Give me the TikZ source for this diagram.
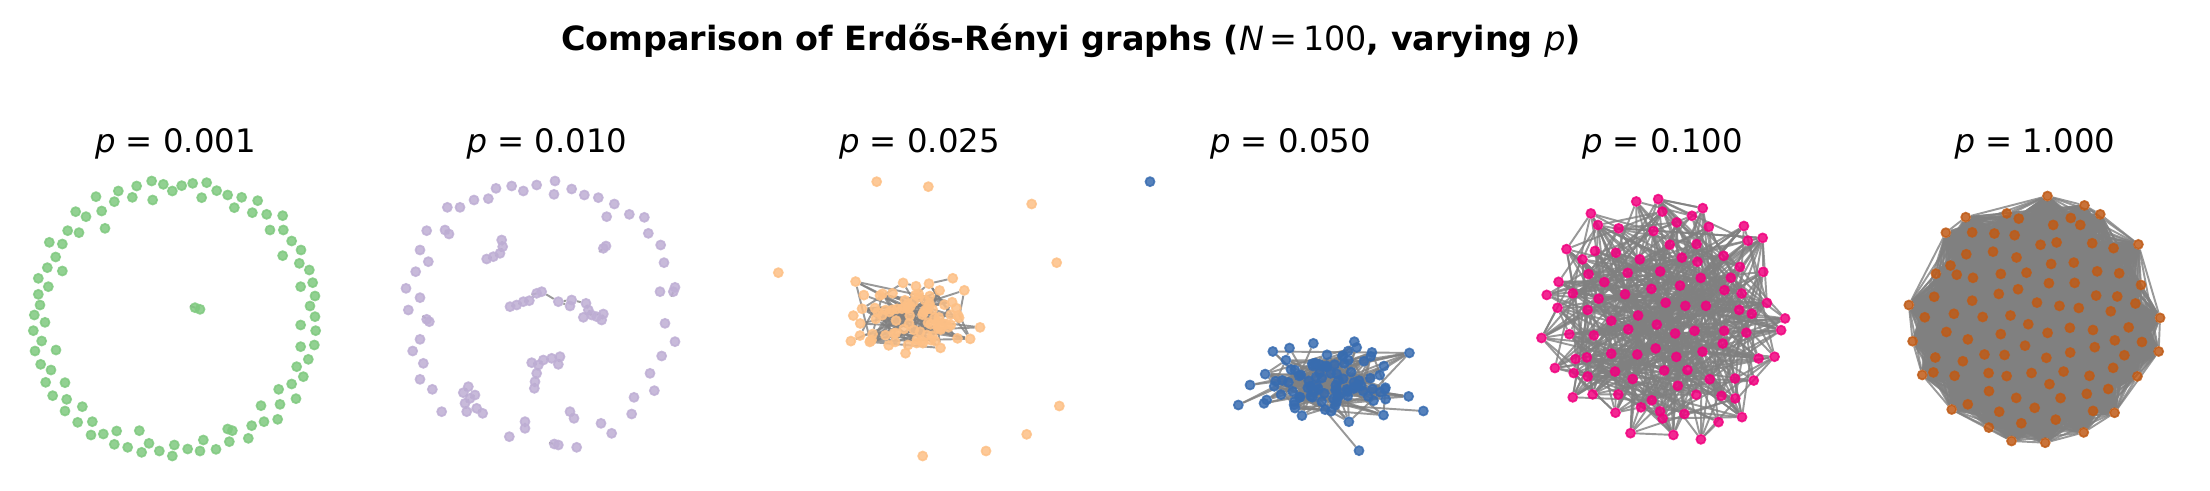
\documentclass[tikz,border=0pt]{standalone}
\usepackage{fontspec}
\setmainfont{DejaVu Sans}
\usetikzlibrary{calc}
\definecolor{accgreen}{HTML}{7FC97F}
\definecolor{accpurple}{HTML}{BEAED4}
\definecolor{accorange}{HTML}{FDC086}
\definecolor{accblue}{HTML}{386CB0}
\definecolor{accpink}{HTML}{F0027F}
\definecolor{accbrown}{HTML}{BF5B17}
\tikzset{vtx/.style={circle,inner sep=0pt,minimum size=0.9mm,line width=0.5pt,draw=#1,fill=#1,opacity=0.85},
  edge/.style={gray,line width=0.55pt,opacity=0.8},
  sub/.style={anchor=base,font=\fontsize{9.2}{11}\selectfont}}
\pgfdeclarelayer{bg}
\pgfsetlayers{bg,main}

\begin{document}
\begin{tikzpicture}[x=0.1mm,y=-0.1mm]
  \useasboundingbox (0,0) rectangle (2210,490);
  \pgfmathsetseed{11}
  \node[anchor=base,font=\bfseries\fontsize{9.5}{12}\selectfont] (title) at (1071,50)
    {Comparison of Erdős-Rényi graphs ({\mdseries\itshape N}{\mdseries\,=\,100}, varying {\mdseries\itshape p})};
  \foreach \cx/\pv [count=\n] in {175.5/0.001,547/0.010,919.5/0.025,1290.5/0.050,1662.5/0.100,2035/1.000}
    \node[sub] (lbl\n) at (\cx,152) {\textit{p} = \pv};

  % p = 0.001
  \begin{scope}[shift={(0,110)},scale=1/3]
    \foreach \zx/\zy [count=\n] in {455/213,490/223,545/227,578/220,620/218,517/243,605/263,650/242,683/255,725/262,
      773/272,703/293,757/308,800/313,848/317,810/360,850/360,875/393,903/420,848/437,
      898/460,928/480,902/530,938/518,945/558,930/588,945/620,902/645,947/662,943/705,
      902/710,925/748,890/770,910/800,875/822,836/838,888/866,840/883,783/887,833/928,
      792/935,755/947,745/985,688/995,683/957,697/962,648/1018,610/990,600/1023,563/1017,
      517/1038,523/1005,478/1023,447/1000,425/1027,383/1012,343/1003,350/963,310/972,273/975,
      418/962,277/935,233/937,247/890,195/903,200/868,195/818,158/857,137/817,153/780,
      122/763,105/723,168/720,125/693,100/662,135/637,103/615,120/585,115/553,145/530,
      115/505,142/473,187/483,167/441,148/397,187/402,203/362,237/368,227/305,258/320,
      305/303,315/355,288/260,343/275,355/243,397/262,410/228,458/270,585/593,600/598}
      \node[vtx=accgreen] (a\n) at (\zx,\zy) {};
    \begin{pgfonlayer}{bg}
      \draw[edge] (a99) -- (a100);
    \end{pgfonlayer}
  \end{scope}

  % p = 0.010
  \begin{scope}[shift={(370,110)},scale=1/3]
    \foreach \zx/\zy [count=\n] in {420/590,440/585,460/575,478/572,500/550,515/545,565/575,605/570,600/588,648/580,
      655/600,640/622,665/615,700/612,695/630,680/620,
      395/390,398/410,390/430,370/440,350/447,
      485/758,505/765,520/750,545/745,570/740,565/763,500/790,495/815,493/835,
      280/848,295/830,315/855,285/880,290/905,320/895,338/910,300/865,
      700/415,708/408,170/628,178/635,225/360,237/372,910/545,915/532,465/935,465/955,
      553/1002,565/1005,600/905,612/925,
      378/235,425/228,460/243,500/225,555/213,552/253,605/237,643/255,685/263,733/282,
      710/320,778/313,823/322,835/370,872/405,882/458,870/545,885/640,915/695,875/738,
      840/790,853/842,792/862,785/912,693/940,725/970,620/1012,418/980,215/905,187/838,
      150/808,160/760,128/723,150/688,115/600,150/563,108/535,137/485,175/455,150/420,
      170/362,232/292,270/292,312/270,355/266}
      \node[vtx=accpurple] (b\n) at (\zx,\zy) {};
    \begin{pgfonlayer}{bg}
      \foreach \u/\v in {1/2,2/3,3/4,4/5,5/6,6/7,7/8,7/9,8/10,10/11,11/12,11/13,13/14,14/15,13/16,
        17/18,18/19,19/20,20/21,22/23,23/24,24/25,25/26,26/27,23/28,28/29,29/30,
        31/32,31/38,38/33,38/34,34/35,35/36,36/37,39/40,41/42,43/44,45/46,47/48,49/50,51/52}
        \draw[edge] (b\u) -- (b\v);
    \end{pgfonlayer}
  \end{scope}

  % p = 0.025
  \begin{scope}[shift={(740,110)},scale=1/3]
    \foreach \n in {1,...,91} {
      \pgfmathsetmacro\px{520+220*(rand+rand)/2}
      \pgfmathsetmacro\py{615+135*(rand+rand)/2}
      \node[vtx=accorange] (c\n) at (\px,\py) {};
    }
    \foreach \zx/\zy [count=\k from 92] in {410/215,565/230,875/282,115/488,950/458,958/888,860/973,738/1023,548/1038}
      \node[vtx=accorange] (c\k) at (\zx,\zy) {};
    \begin{pgfonlayer}{bg}
      \foreach \k in {1,...,124} {
        \pgfmathtruncatemacro\u{1+int(90.99*rnd)}
        \pgfmathtruncatemacro\v{1+int(90.99*rnd)}
        \ifnum\u=\v\else\draw[edge] (c\u) -- (c\v);\fi
      }
    \end{pgfonlayer}
  \end{scope}

  % p = 0.050
  \begin{scope}[shift={(1110,110)},scale=1/3]
    \foreach \n in {1,...,92} {
      \pgfmathsetmacro\px{665+300*(rand+rand+rand)/3}
      \pgfmathsetmacro\py{825+160*(rand+rand+rand)/3}
      \node[vtx=accblue] (d\n) at (\px,\py) {};
    }
    \foreach \zx/\zy [count=\k from 93] in {385/885,940/903,747/1022,610/700,733/695,420/825,462/880}
      \node[vtx=accblue] (d\k) at (\zx,\zy) {};
    \node[vtx=accblue] (d100) at (120,215) {};
    \begin{pgfonlayer}{bg}
      \foreach \k in {1,...,240} {
        \pgfmathtruncatemacro\u{1+int(91.99*rnd)}
        \pgfmathtruncatemacro\v{1+int(91.99*rnd)}
        \ifnum\u=\v\else\draw[edge] (d\u) -- (d\v);\fi
      }
      \foreach \u/\v in {93/12,93/40,94/7,95/21,96/33,97/55,98/18,98/61,99/3,99/70}
        \draw[edge] (d\u) -- (d\v);
    \end{pgfonlayer}
  \end{scope}

  % p = 0.100
  \begin{scope}[shift={(1480,110)},scale=1/3]
    \foreach \n in {1,...,100} {
      \pgfmathsetmacro\rr{sqrt((\n-0.5)/100)*(1+0.07*rand)}
      \pgfmathsetmacro\ang{\n*137.508+6*rand}
      \node[vtx=accpink] (e\n) at ({550+385*\rr*cos(\ang)},{625+375*\rr*sin(\ang)}) {};
    }
    \begin{pgfonlayer}{bg}
      \foreach \k in {1,...,495} {
        \pgfmathtruncatemacro\u{1+int(99.99*rnd)}
        \pgfmathtruncatemacro\v{1+int(99.99*rnd)}
        \ifnum\u=\v\else\draw[edge] (e\u) -- (e\v);\fi
      }
    \end{pgfonlayer}
  \end{scope}

  % p = 1.000
  \begin{scope}[shift={(1840,110)},scale=1/3]
    \foreach \n in {1,...,100} {
      \pgfmathsetmacro\rr{\n>84 ? 0.985+0.015*rand : 0.92*sqrt((\n-0.5)/84)*(1+0.05*rand)}
      \pgfmathsetmacro\ang{\n*137.508+5*rand}
      \node[vtx=accbrown] (f\n) at ({585+385*\rr*cos(\ang)},{625+375*\rr*sin(\ang)}) {};
    }
    \begin{pgfonlayer}{bg}
      \foreach \i in {1,...,99} {
        \pgfmathtruncatemacro\nx{\i+1}
        \foreach \j in {\nx,...,100}
          \draw[edge] (f\i) -- (f\j);
      }
    \end{pgfonlayer}
  \end{scope}
\end{tikzpicture}
\end{document}
